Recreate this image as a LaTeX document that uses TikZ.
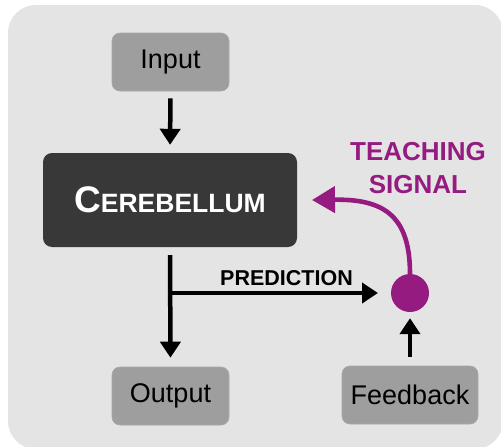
\documentclass[tikz,border=0pt]{standalone}
\usepackage{fontspec}
\setmainfont{Liberation Sans}
\usetikzlibrary{arrows.meta}
\definecolor{panel}{HTML}{E4E4E4}
\definecolor{greybox}{HTML}{9E9E9E}
\definecolor{darkbox}{HTML}{383838}
\definecolor{teach}{HTML}{951B81}
\tikzset{
  lightbox/.style={fill=greybox, draw=greybox!90!white, line width=0.6pt, rounded corners=8pt,
    minimum width=117pt, minimum height=58pt, inner sep=0pt, text=black,
    font=\fontsize{27}{27}\selectfont},
  flow/.style={line width=4.5pt, -{Triangle[width=20pt,length=16pt]}},
  teacharrow/.style={draw=teach, line width=4.6pt, -{Triangle[width=26pt,length=23pt]}},
  bigtext/.style={font=\bfseries\fontsize{21.5}{21.5}\selectfont, inner sep=0pt}
}
\begin{document}
\begin{tikzpicture}[x=1pt,y=-1pt]
  \useasboundingbox (0,0) rectangle (501,447);
  % background panel
  \fill[white] (0,0) rectangle (501,447);
  \fill[panel, rounded corners=28pt] (8,5) rectangle (503,449);

  % boxes
  \node[lightbox] (input) at (170.5,62) {Input};
  \node[fill=darkbox, rounded corners=9pt, minimum width=254pt, minimum height=94pt,
        inner sep=0pt, text=white, font=\bfseries] (cereb) at (170,200)
        {{\fontsize{37}{37}\selectfont C}{\fontsize{26.5}{26.5}\selectfont EREBELLUM}};
  \node[lightbox] (output) at (170.5,396) {Output};
  \node[lightbox, minimum width=136pt] (feedback) at (410,395) {Feedback};
  \node[circle, fill=teach, minimum size=38pt, inner sep=0pt] (dot) at (410,293) {};

  % junction and free ends
  \coordinate (split) at (cereb.south |- dot.west);
  \coordinate (predtip) at (378,293);
  \coordinate (teachtip) at (312,200);

  % connectors
  \draw[flow, shorten <=7pt, shorten >=8pt] (input.south) -- (cereb.north);
  \draw[flow, shorten <=8pt, shorten >=9pt] (cereb.south) -- (output.north);
  \draw[flow] ([xshift=-2.2pt]split) -- (predtip);
  \draw[flow, shorten <=9pt, shorten >=6pt] (feedback.north) -- (dot.south);
  \draw[teacharrow] (dot.north) .. controls (410,214) and (382,199) .. (teachtip);

  % labels
  \node[bigtext, anchor=base] (predlabel) at (286.5,285) {PREDICTION};
  \node[text=teach, font=\bfseries\fontsize{26}{26}\selectfont, align=center, inner sep=0pt,
        anchor=base] (teachlabel) at (418,193) {TEACHING\\[7pt]SIGNAL};
\end{tikzpicture}
\end{document}
